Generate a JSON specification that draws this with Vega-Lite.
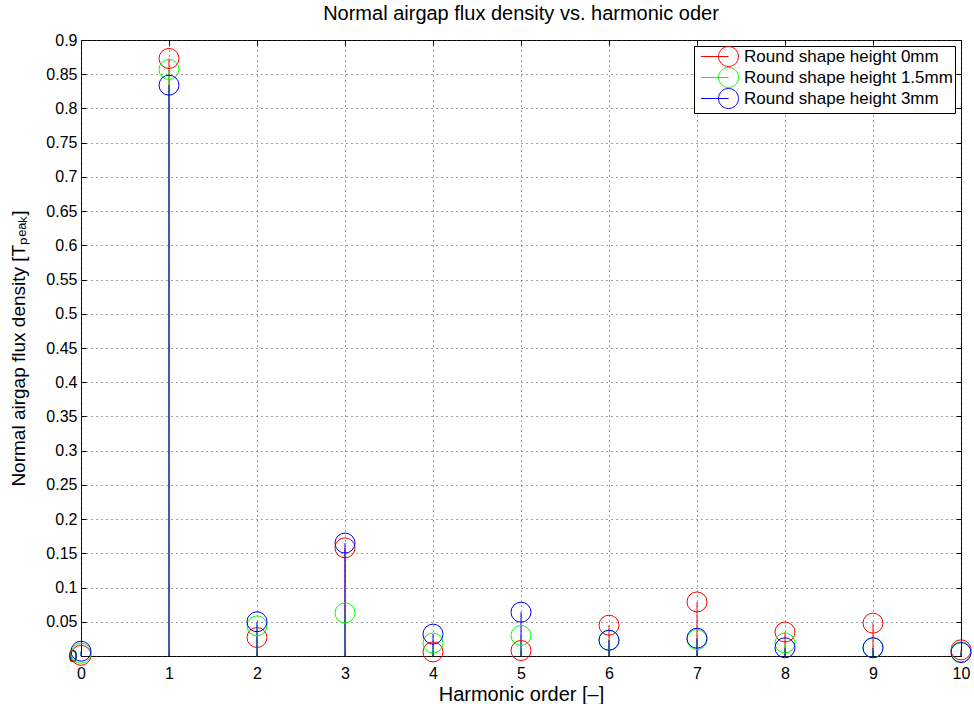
{
  "$schema": "https://vega.github.io/schema/vega-lite/v6.json",
  "width": 880,
  "height": 616,
  "autosize": {"type": "none"},
  "padding": {"left": 81, "top": 40, "right": 13, "bottom": 48},
  "background": "white",
  "config": {
    "font": "Liberation Sans",
    "view": {"stroke": "black", "strokeWidth": 1},
    "axis": {
      "labelColor": "black",
      "titleColor": "black",
      "tickColor": "black",
      "titleFontWeight": "normal",
      "labelFont": "Liberation Sans",
      "titleFont": "Liberation Sans"
    }
  },
  "title": {
    "text": "Normal airgap flux density vs. harmonic oder",
    "fontSize": 20,
    "fontWeight": "normal",
    "color": "black",
    "anchor": "middle",
    "offset": 8
  },
  "data": {
    "values": [
      {"h": 0, "series": "Round shape height 0mm", "v": 0.001},
      {"h": 1, "series": "Round shape height 0mm", "v": 0.873},
      {"h": 2, "series": "Round shape height 0mm", "v": 0.027},
      {"h": 3, "series": "Round shape height 0mm", "v": 0.158},
      {"h": 4, "series": "Round shape height 0mm", "v": 0.006},
      {"h": 5, "series": "Round shape height 0mm", "v": 0.008},
      {"h": 6, "series": "Round shape height 0mm", "v": 0.045},
      {"h": 7, "series": "Round shape height 0mm", "v": 0.079},
      {"h": 8, "series": "Round shape height 0mm", "v": 0.035},
      {"h": 9, "series": "Round shape height 0mm", "v": 0.048},
      {"h": 10, "series": "Round shape height 0mm", "v": 0.009},
      {"h": 0, "series": "Round shape height 1.5mm", "v": 0.004},
      {"h": 1, "series": "Round shape height 1.5mm", "v": 0.857},
      {"h": 2, "series": "Round shape height 1.5mm", "v": 0.044},
      {"h": 3, "series": "Round shape height 1.5mm", "v": 0.063},
      {"h": 4, "series": "Round shape height 1.5mm", "v": 0.019},
      {"h": 5, "series": "Round shape height 1.5mm", "v": 0.030},
      {"h": 6, "series": "Round shape height 1.5mm", "v": 0.023},
      {"h": 7, "series": "Round shape height 1.5mm", "v": 0.024},
      {"h": 8, "series": "Round shape height 1.5mm", "v": 0.019},
      {"h": 9, "series": "Round shape height 1.5mm", "v": 0.012},
      {"h": 10, "series": "Round shape height 1.5mm", "v": 0.006},
      {"h": 0, "series": "Round shape height 3mm", "v": 0.007},
      {"h": 1, "series": "Round shape height 3mm", "v": 0.834},
      {"h": 2, "series": "Round shape height 3mm", "v": 0.050},
      {"h": 3, "series": "Round shape height 3mm", "v": 0.165},
      {"h": 4, "series": "Round shape height 3mm", "v": 0.032},
      {"h": 5, "series": "Round shape height 3mm", "v": 0.064},
      {"h": 6, "series": "Round shape height 3mm", "v": 0.023},
      {"h": 7, "series": "Round shape height 3mm", "v": 0.026},
      {"h": 8, "series": "Round shape height 3mm", "v": 0.012},
      {"h": 9, "series": "Round shape height 3mm", "v": 0.012},
      {"h": 10, "series": "Round shape height 3mm", "v": 0.005}
    ]
  },
  "layer": [
    {
      "encoding": {
        "x": {
          "field": "h",
          "type": "quantitative",
          "scale": {"domain": [0, 10], "nice": false, "zero": false},
          "axis": {
            "values": [0, 1, 2, 3, 4, 5, 6, 7, 8, 9, 10],
            "title": "Harmonic order [–]",
            "titleFontSize": 20,
            "titlePadding": 3,
            "labelFontSize": 16,
            "labelFlush": false,
            "labelOverlap": false,
            "labelPadding": 14,
            "tickSize": -5,
            "domain": false,
            "grid": true,
            "gridColor": "#444444",
            "gridDash": [1, 4],
            "gridOpacity": 1
          }
        },
        "y": {
          "field": "v",
          "type": "quantitative",
          "scale": {"domain": [0, 0.9], "nice": false},
          "axis": {
            "values": [0, 0.05, 0.1, 0.15, 0.2, 0.25, 0.3, 0.35, 0.4, 0.45, 0.5, 0.55, 0.6, 0.65, 0.7, 0.75, 0.8, 0.85, 0.9],
            "format": ".2~f",
            "title": "Normal airgap flux density [Tₚₑₐₖ]",
            "titleFontSize": 19,
            "titlePadding": 17,
            "labelFontSize": 16,
            "labelFlush": false,
            "labelOverlap": false,
            "labelPadding": 9,
            "tickSize": -5,
            "domain": false,
            "grid": true,
            "gridColor": "#444444",
            "gridDash": [1, 4],
            "gridOpacity": 1
          }
        },
        "color": {
          "field": "series",
          "type": "nominal",
          "sort": ["Round shape height 0mm", "Round shape height 1.5mm", "Round shape height 3mm"],
          "scale": {
            "domain": ["Round shape height 0mm", "Round shape height 1.5mm", "Round shape height 3mm"],
            "range": ["#ff0000", "#00ff00", "#0000ff"]
          },
          "legend": {
            "orient": "none",
            "legendX": 613,
            "legendY": 6,
            "title": null,
            "padding": 2,
            "strokeColor": "black",
            "fillColor": "white",
            "cornerRadius": 0,
            "symbolType": "M-3.45,0H0M1.25,0A1.25,1.25,0,1,0,-1.25,0A1.25,1.25,0,1,0,1.25,0",
            "symbolSize": 256,
            "symbolStrokeWidth": 1,
            "symbolFillColor": "transparent",
            "symbolOffset": 24,
            "labelOffset": 7,
            "labelFontSize": 17,
            "labelColor": "black",
            "labelFont": "Liberation Sans",
            "labelLimit": 400,
            "rowPadding": -4
          }
        }
      },
      "layer": [
        {
          "mark": {"type": "rule", "strokeWidth": 1},
          "encoding": {"y2": {"datum": 0}}
        },
        {
          "mark": {"type": "point", "filled": false, "size": 400, "strokeWidth": 1, "opacity": 1}
        }
      ]
    },
    {
      "mark": {"type": "point", "opacity": 0},
      "encoding": {
        "x": {
          "field": "h",
          "type": "quantitative",
          "scale": {"domain": [0, 10], "nice": false, "zero": false},
          "axis": {
            "orient": "top",
            "values": [0, 1, 2, 3, 4, 5, 6, 7, 8, 9, 10],
            "labels": false,
            "title": null,
            "tickSize": -5,
            "domain": false,
            "grid": false
          }
        },
        "y": {
          "field": "v",
          "type": "quantitative",
          "scale": {"domain": [0, 0.9], "nice": false},
          "axis": {
            "orient": "right",
            "values": [0, 0.05, 0.1, 0.15, 0.2, 0.25, 0.3, 0.35, 0.4, 0.45, 0.5, 0.55, 0.6, 0.65, 0.7, 0.75, 0.8, 0.85, 0.9],
            "labels": false,
            "title": null,
            "tickSize": -5,
            "domain": false,
            "grid": false
          }
        }
      }
    }
  ],
  "resolve": {"scale": {"x": "independent", "y": "independent"}}
}
